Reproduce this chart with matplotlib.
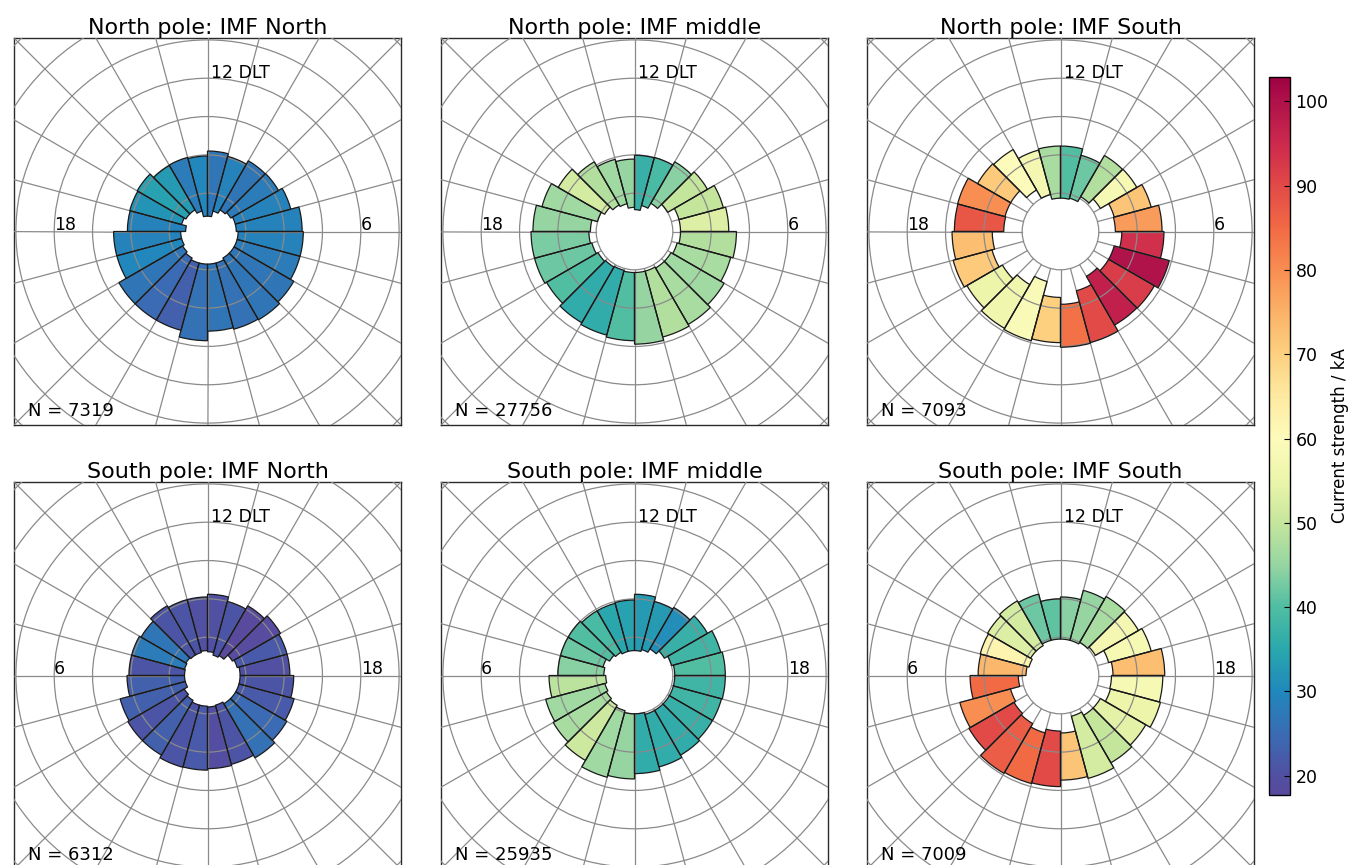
import matplotlib
matplotlib.use('Agg')
import matplotlib.pyplot as plt
import numpy as np
from matplotlib.patches import Wedge, Circle
from matplotlib.colors import Normalize, LinearSegmentedColormap
from matplotlib.cm import ScalarMappable

# ---------------- data (24 one-hour MLT bins, h = 0..23) ----------------
titles = ["North pole: IMF North", "North pole: IMF middle", "North pole: IMF South",
          "South pole: IMF North", "South pole: IMF middle", "South pole: IMF South"]
counts = [7319, 27756, 7093, 6312, 25935, 7009]
hemis = ["N", "N", "N", "S", "S", "S"]

# outer / inner radius of each bin (grid-circle units) and current strength (kA)
nn_out = [2.60, 2.64, 2.66, 2.60, 2.50, 2.50, 2.47, 2.25, 2.14, 2.13, 2.03, 2.10,
          1.97, 2.00, 1.99, 2.12, 2.10, 2.09, 2.45, 2.45, 2.67, 2.67, 2.67, 2.85]
nn_in = [0.85, 0.85, 0.80, 0.80, 0.80, 0.80, 0.75, 0.75, 0.70, 0.65, 0.55, 0.40,
         0.40, 0.55, 0.65, 0.65, 0.70, 0.57, 0.70, 0.70, 0.75, 0.80, 0.85, 0.85]
nn_val = [27, 26, 27, 27, 28, 29, 29, 29, 28, 27, 29, 27,
          30, 28, 33, 34, 32, 29, 29, 30, 27, 25, 23, 26]

nm_out = [2.94, 2.85, 2.80, 2.70, 2.60, 2.66, 2.46, 2.40, 2.20, 2.10, 2.00, 1.99,
          1.89, 1.95, 2.10, 2.30, 2.50, 2.65, 2.70, 2.70, 2.65, 2.75, 2.80, 2.85]
nm_in = [1.07, 1.07, 1.10, 1.10, 1.15, 1.20, 1.20, 1.20, 1.00, 0.85, 0.70, 0.57,
         0.63, 0.75, 0.80, 0.90, 1.00, 1.15, 1.19, 1.15, 1.10, 1.07, 1.05, 1.07]
nm_val = [45, 48, 47, 46, 47, 48, 53, 50, 50, 44, 39, 37,
          45, 46, 48, 52, 46, 45, 43, 42, 40, 36, 36, 40]

ns_out = [3.02, 3.00, 2.82, 2.83, 2.94, 2.70, 2.65, 2.45, 2.30, 2.29, 2.06, 2.23,
          2.23, 2.20, 2.47, 2.50, 2.78, 2.77, 2.83, 2.90, 2.82, 2.92, 2.95, 2.90]
ns_in = [1.90, 1.60, 1.35, 1.45, 1.45, 1.60, 1.43, 1.45, 1.20, 1.05, 0.90, 0.87,
         0.87, 1.00, 1.25, 1.50, 1.50, 1.48, 1.78, 1.85, 1.75, 1.60, 1.35, 1.72]
ns_val = [84, 90, 97, 92, 100, 94, 78, 72, 58, 48, 42, 40,
          47, 57, 60, 71, 80, 88, 73, 71, 55, 56, 59, 70]

sn_out = [2.47, 2.48, 2.40, 2.40, 2.36, 2.10, 2.05, 2.05, 2.00, 2.10, 2.05, 2.05,
          2.12, 2.00, 2.10, 2.20, 2.15, 2.15, 2.25, 2.34, 2.39, 2.48, 2.40, 2.43]
sn_in = [0.80, 0.80, 0.75, 0.70, 0.60, 0.60, 0.60, 0.62, 0.65, 0.62, 0.62, 0.65,
         0.62, 0.55, 0.60, 0.75, 0.80, 0.85, 0.85, 0.85, 0.85, 0.85, 0.80, 0.82]
sn_val = [22, 21, 23, 21, 23, 23, 21, 28, 27, 21, 21, 20,
          20, 21, 18, 18.5, 22, 20, 21, 22, 25, 26, 21, 19.5]

sm_out = [2.70, 2.75, 2.56, 2.45, 2.40, 2.23, 2.00, 2.00, 2.00, 1.95, 1.95, 1.97,
          2.12, 2.00, 2.05, 2.20, 2.33, 2.37, 2.37, 2.35, 2.35, 2.40, 2.47, 2.56]
sm_in = [1.00, 0.95, 0.90, 0.85, 0.80, 0.75, 0.80, 0.85, 0.75, 0.70, 0.65, 0.65,
         0.65, 0.70, 0.80, 0.90, 1.00, 1.05, 1.05, 1.05, 1.05, 1.05, 1.05, 1.00]
sm_val = [45, 46, 51, 47, 46, 49, 44, 42, 40, 39, 35, 34,
          33, 33, 31, 37, 38, 40, 38, 38, 37, 36, 36, 36]

ss_out = [2.90, 2.92, 2.95, 2.76, 2.72, 2.36, 2.15, 2.17, 2.20, 2.25, 2.20, 2.00,
          2.05, 2.30, 2.38, 2.35, 2.45, 2.72, 2.67, 2.70, 2.57, 2.63, 2.78, 2.73]
ss_in = [1.45, 1.55, 1.45, 1.40, 1.35, 1.10, 0.90, 0.85, 0.90, 0.90, 0.95, 0.95,
         0.95, 0.95, 1.00, 1.05, 1.30, 1.37, 1.33, 1.35, 1.20, 1.20, 1.10, 1.50]
ss_val = [90, 85, 87, 90, 80, 85, 74, 62, 53, 52, 42, 41,
          44, 45, 47, 57, 58, 73, 58, 55, 54, 50, 52, 72]

outers = [nn_out, nm_out, ns_out, sn_out, sm_out, ss_out]
inners = [nn_in, nm_in, ns_in, sn_in, sm_in, ss_in]
values = [nn_val, nm_val, ns_val, sn_val, sm_val, ss_val]

cbar_ticks = [20, 30, 40, 50, 60, 70, 80, 90, 100]
vmin, vmax = 17.7, 102.9

# colour scale as seen on the reference colour bar (value -> colour)
cm_vals = [17.7, 20, 25, 30, 35, 40, 45, 50, 55, 60, 65, 70, 75, 80, 85, 90, 95, 100, 102.9]
cm_cols = ['#5a4a9e', '#5050a2', '#3a6cb4', '#2088bc', '#2aa8ac', '#50bea2', '#96d5a2',
           '#c4e69c', '#ecf5aa', '#fdfbbb', '#fdeaa0', '#fdd080', '#fbb268', '#f88e52',
           '#f26a44', '#e24a48', '#cc2a4c', '#b0124a', '#9e0142']

# ---------------- layout ----------------
W, H = 1348, 865
fig = plt.figure(figsize=(W / 100, H / 100), dpi=100)
cmap = LinearSegmentedColormap.from_list(
    'cur', [((v - vmin) / (vmax - vmin), c) for v, c in zip(cm_vals, cm_cols)], N=512)
norm = Normalize(vmin, vmax)

size = 387
lefts = [14, 441, 867]
tops = [38, 482]
half = 5.05
gridc = '#8a8a8a'

for i in range(6):
    row, col = divmod(i, 3)
    l, t = lefts[col], tops[row]
    ax = fig.add_axes([l / W, (H - t - size) / H, size / W, size / H])
    ax.set_xlim(-half, half)
    ax.set_ylim(-half, half)
    ax.set_xticks([])
    ax.set_yticks([])
    for s in ax.spines.values():
        s.set_color('#2a2a2a')
        s.set_linewidth(1.0)

    # grid
    for r in range(1, 8):
        ax.add_patch(Circle((0, 0), r, fill=False, ec=gridc, lw=0.9, zorder=3))
    for k in range(24):
        a = np.deg2rad(k * 15)
        ax.plot([np.cos(a), 8 * np.cos(a)], [np.sin(a), 8 * np.sin(a)],
                color=gridc, lw=0.9, zorder=3)

    # bins
    for h in range(24):
        if hemis[i] == "N":
            t1 = (h - 6) * 15
        else:
            t1 = (17 - h) * 15
        ro, ri, v = outers[i][h], inners[i][h], values[i][h]
        ax.add_patch(Wedge((0, 0), ro, t1, t1 + 15, width=ro - ri,
                           facecolor=cmap(norm(v)), edgecolor='none', zorder=2))
        ax.add_patch(Wedge((0, 0), ro, t1, t1 + 15, width=ro - ri,
                           fill=False, edgecolor='#1a1a1a', lw=0.9, zorder=4))

    # labels
    ax.text(0.08, 4.0, '12 DLT', ha='left', va='baseline', fontsize=12.5, zorder=5)
    if hemis[i] == "N":
        ax.text(-4.0, 0.03, '18', ha='left', va='baseline', fontsize=12.5, zorder=5)
        ax.text(4.0, 0.03, '6', ha='left', va='baseline', fontsize=12.5, zorder=5)
    else:
        ax.text(-4.0, 0.03, '6', ha='left', va='baseline', fontsize=12.5, zorder=5)
        ax.text(4.0, 0.03, '18', ha='left', va='baseline', fontsize=12.5, zorder=5)
    ax.text(-4.68, -4.82, 'N = %d' % counts[i], ha='left', va='baseline',
            fontsize=13, zorder=5)
    ax.set_title(titles[i], fontsize=16, pad=3)

# colorbar
cax = fig.add_axes([1269 / W, (H - 795) / H, 21 / W, 718 / H])
sm = ScalarMappable(norm=norm, cmap=cmap)
cb = fig.colorbar(sm, cax=cax)
cb.set_ticks(cbar_ticks)
cb.ax.tick_params(labelsize=12.5, direction='in', length=4, pad=4)
cb.outline.set_linewidth(1.0)
cb.set_label('Current strength / kA', fontsize=12, labelpad=2)

fig.savefig('out.png', dpi=100, facecolor='white')
